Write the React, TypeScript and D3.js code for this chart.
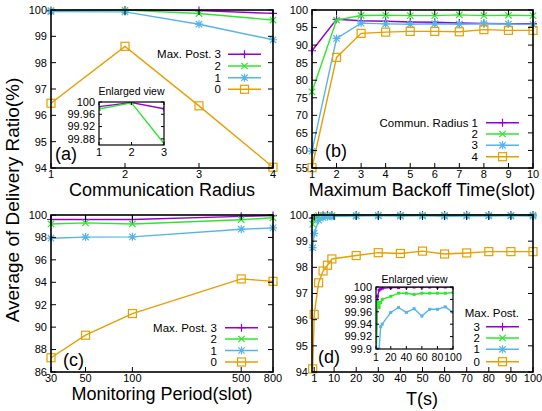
import * as d3 from "d3";

const FONT = "'Liberation Sans', Arial, Helvetica, sans-serif";
const PURPLE = "#9400d3";
const GREEN = "#2ee62e";
const BLUE = "#56b4e9";
const ORANGE = "#e69f00";

// (a) communication radius
const radiusX = [1, 2, 3, 4];
const aPost3 = [99.985, 99.998, 99.978, 99.87];
const aPost2 = [99.977, 99.997, 99.865, 99.62];
const aPost1 = [99.94, 99.93, 99.46, 98.87];
const aPost0 = [96.46, 98.62, 96.36, 94.03];

// (b) maximum backoff time
const backoffX = [1, 2, 3, 4, 5, 6, 7, 8, 9, 10];
const bRadius1 = [88.4, 97.35, 96.95, 96.8, 96.6, 96.5, 96.3, 96.2, 96.1, 96.1];
const bRadius2 = [76.7, 97.15, 98.45, 98.5, 98.4, 98.4, 98.6, 98.4, 98.5, 98.4];
const bRadius3 = [59.8, 91.9, 96.25, 96.05, 95.95, 96.1, 95.95, 96.1, 96.0, 95.9];
const bRadius4 = [55.1, 86.5, 93.35, 93.7, 93.9, 93.9, 93.8, 94.4, 94.2, 94.2];

// (c) monitoring period
const periodX = [30, 50, 100, 500, 800];
const cPost3 = [99.6, 99.6, 99.6, 99.88, 99.95];
const cPost2 = [99.2, 99.3, 99.2, 99.58, 99.75];
const cPost1 = [97.93, 98.03, 98.05, 98.73, 98.85];
const cPost0 = [87.27, 89.28, 91.21, 94.3, 94.08];

// (d) T(s)
const timeX = [0.3, 1, 3, 5, 7, 9, 20, 30, 40, 50, 60, 70, 80, 90, 100];
const dPost3 = [99.88, 99.9, 99.985, 99.995, 99.997, 99.998, 99.999, 99.999, 100, 100, 100, 100, 100, 100, 100];
const dPost2 = [99.65, 99.88, 99.976, 99.967, 99.975, 99.98, 99.985, 99.99, 99.99, 99.988, 99.99, 99.99, 99.99, 99.99, 99.991];
const dPost1 = [98.75, 99.3, 99.8, 99.9, 99.936, 99.94, 99.959, 99.967, 99.959, 99.965, 99.953, 99.964, 99.964, 99.968, 99.959];
const dPost0 = [94.12, 96.2, 97.41, 97.86, 98.08, 98.32, 98.45, 98.56, 98.53, 98.62, 98.51, 98.55, 98.6, 98.6, 98.6];

const postLabels = ["Max. Post. 3", "2", "1", "0"];
const radiusLabels = ["Commun. Radius 1", "2", "3", "4"];
const postDigits = ["3", "2", "1", "0"];

const colors = [PURPLE, GREEN, BLUE, ORANGE];
const markers = ["plus", "cross", "star", "square"];

type Box = { l: number; r: number; t: number; b: number };

function Marker({ kind, cx, cy, color, s = 1 }: any) {
  const p = 4 * s;
  const c = 3.2 * s;
  const sw = 1.2;
  if (kind === "plus")
    return (
      <path d={`M${cx - p},${cy}H${cx + p}M${cx},${cy - p}V${cy + p}`} stroke={color} strokeWidth={sw} />
    );
  if (kind === "cross")
    return (
      <path
        d={`M${cx - c},${cy - c}L${cx + c},${cy + c}M${cx - c},${cy + c}L${cx + c},${cy - c}`}
        stroke={color}
        strokeWidth={sw}
      />
    );
  if (kind === "star")
    return (
      <path
        d={`M${cx - p},${cy}H${cx + p}M${cx},${cy - p}V${cy + p}M${cx - c},${cy - c}L${cx + c},${cy + c}M${cx - c},${cy + c}L${cx + c},${cy - c}`}
        stroke={color}
        strokeWidth={sw}
      />
    );
  if (kind === "dot") return <rect x={cx - 1.5} y={cy - 1.5} width={3} height={3} fill={color} />;
  return (
    <rect x={cx - 4 * s} y={cy - 4 * s} width={8 * s} height={8 * s} fill="none" stroke={color} strokeWidth={sw} />
  );
}

function Frame({ box, x, y, xTicks, yTicks, xFmt, yFmt, fs, xfs, tick, labelGap, sw }: any) {
  return (
    <g>
      {xTicks.map((t: number) => (
        <g key={"x" + t}>
          <line x1={x(t)} x2={x(t)} y1={box.b} y2={box.b - tick} stroke="#000" />
          <line x1={x(t)} x2={x(t)} y1={box.t} y2={box.t + tick} stroke="#000" />
          <text x={x(t)} y={box.b + labelGap} textAnchor="middle" fontSize={xfs || fs}>
            {xFmt(t)}
          </text>
        </g>
      ))}
      {yTicks.map((t: number) => (
        <g key={"y" + t}>
          <line x1={box.l} x2={box.l + tick} y1={y(t)} y2={y(t)} stroke="#000" />
          <line x1={box.r} x2={box.r - tick} y1={y(t)} y2={y(t)} stroke="#000" />
          <text x={box.l - 4} y={y(t)} dy="0.35em" textAnchor="end" fontSize={fs}>
            {yFmt(t)}
          </text>
        </g>
      ))}
      <rect x={box.l} y={box.t} width={box.r - box.l} height={box.b - box.t} fill="none" stroke="#000" strokeWidth={sw} />
    </g>
  );
}

function Lines({ xs, ys, x, y, s = 1, dots = false, clip }: any) {
  const line = d3
    .line<[number, number]>()
    .x((d) => x(d[0]))
    .y((d) => y(d[1]));
  return (
    <g clipPath={clip}>
      {ys.map((vals: number[], i: number) => {
        const pts = xs.map((v: number, j: number) => [v, vals[j]] as [number, number]);
        return (
          <g key={i}>
            <path d={line(pts) || ""} fill="none" stroke={colors[i]} strokeWidth={1.4} />
            {pts.map((p: [number, number], j: number) => (
              <Marker key={j} kind={dots ? "dot" : markers[i]} cx={x(p[0])} cy={y(p[1])} color={colors[i]} s={s} />
            ))}
          </g>
        );
      })}
    </g>
  );
}

function Legend({ labels, textX, x1, x2, rows, title, titleY }: any) {
  return (
    <g fontSize={11.5}>
      {title && (
        <text x={x2} y={titleY} dy="0.35em" textAnchor="end">
          {title}
        </text>
      )}
      {labels.map((lab: string, i: number) => (
        <g key={i}>
          <text x={textX} y={rows[i]} dy="0.35em" textAnchor="end">
            {lab}
          </text>
          <line x1={x1} x2={x2} y1={rows[i]} y2={rows[i]} stroke={colors[i]} strokeWidth={1.4} />
          <Marker kind={markers[i]} cx={(x1 + x2) / 2} cy={rows[i]} color={colors[i]} />
        </g>
      ))}
    </g>
  );
}

const intFmt = (v: number) => String(v);
const decFmt = (v: number) => String(+v.toFixed(2));

export default function App() {
  // (a)
  const boxA: Box = { l: 51, r: 273, t: 10, b: 168 };
  const xA = d3.scaleLinear().domain([1, 4]).range([boxA.l, boxA.r]);
  const yA = d3.scaleLinear().domain([94, 100]).range([boxA.b, boxA.t]);
  const insA: Box = { l: 99, r: 164, t: 102, b: 145 };
  const xIA = d3.scaleLinear().domain([1, 3]).range([insA.l, insA.r]);
  const yIA = d3.scaleLinear().domain([99.86, 100]).range([insA.b, insA.t]);

  // (b)
  const boxB: Box = { l: 312, r: 533, t: 10, b: 168 };
  const xB = d3.scaleLinear().domain([1, 10]).range([boxB.l, boxB.r]);
  const yB = d3.scaleLinear().domain([55, 100]).range([boxB.b, boxB.t]);

  // (c)
  const boxC: Box = { l: 51, r: 273, t: 215, b: 372 };
  const xC = d3.scaleLog().domain([30, 800]).range([boxC.l, boxC.r]);
  const yC = d3.scaleLinear().domain([86, 100]).range([boxC.b, boxC.t]);

  // (d)
  const boxD: Box = { l: 312, r: 533, t: 215, b: 372 };
  const xD = d3.scaleLinear().domain([0, 100]).range([boxD.l, boxD.r]);
  const yD = d3.scaleLinear().domain([94, 100]).range([boxD.b, boxD.t]);
  const insD: Box = { l: 376, r: 453, t: 287, b: 349 };
  const xID = d3.scaleLinear().domain([1, 100]).range([insD.l, insD.r]);
  const yID = d3.scaleLinear().domain([99.9, 100]).range([insD.b, insD.t]);

  return (
    <svg width={542} height={411} style={{ position: "absolute", left: 0, top: 0 }} fontFamily={FONT}>
      <rect width={542} height={411} fill="#fff" />
      <defs>
        <clipPath id="clipIA">
          <rect x={insA.l} y={insA.t} width={insA.r - insA.l} height={insA.b - insA.t} />
        </clipPath>
        <clipPath id="clipID">
          <rect x={insD.l} y={insD.t} width={insD.r - insD.l} height={insD.b - insD.t} />
        </clipPath>
      </defs>

      <text transform="translate(19,200) rotate(-90)" textAnchor="middle" fontSize={19}>
        Average of Delivery Ratio(%)
      </text>

      {/* (a) */}
      <Lines xs={radiusX} ys={[aPost3, aPost2, aPost1, aPost0]} x={xA} y={yA} />
      <Legend labels={postLabels} textX={221} x1={228} x2={261} rows={[54.3, 66, 77.7, 89.3]} />
      <rect x={insA.l} y={insA.t} width={insA.r - insA.l} height={insA.b - insA.t} fill="#fff" />
      <Lines xs={radiusX} ys={[aPost3, aPost2]} x={xIA} y={yIA} s={0.55} clip="url(#clipIA)" />
      <Frame box={insA} x={xIA} y={yIA} xTicks={[1, 2, 3]} yTicks={[100, 99.96, 99.92, 99.88]} xFmt={intFmt} yFmt={decFmt} fs={11} tick={3} labelGap={11} sw={1.2} />
      <text x={131.5} y={95} textAnchor="middle" fontSize={10.5}>
        Enlarged view
      </text>
      <text x={55} y={160} fontSize={18}>
        (a)
      </text>
      <Frame box={boxA} x={xA} y={yA} xTicks={radiusX} yTicks={d3.range(94, 101)} xFmt={intFmt} yFmt={intFmt} fs={11} tick={5} labelGap={10} sw={1.6} />
      <text x={162} y={196} textAnchor="middle" fontSize={18}>
        Communication Radius
      </text>

      {/* (b) */}
      <Lines xs={backoffX} ys={[bRadius1, bRadius2, bRadius3, bRadius4]} x={xB} y={yB} />
      <Legend labels={radiusLabels} textX={478} x1={486} x2={519} rows={[122.7, 134, 145.3, 156.7]} />
      <text x={325} y={157} fontSize={18}>
        (b)
      </text>
      <Frame box={boxB} x={xB} y={yB} xTicks={backoffX} yTicks={d3.range(55, 101, 5)} xFmt={intFmt} yFmt={intFmt} fs={11} tick={5} labelGap={10} sw={1.6} />
      <text x={422} y={196} textAnchor="middle" fontSize={18}>
        Maximum Backoff Time(slot)
      </text>

      {/* (c) */}
      <Lines xs={periodX} ys={[cPost3, cPost2, cPost1, cPost0]} x={xC} y={yC} />
      <Legend labels={postLabels} textX={217} x1={225} x2={258} rows={[327.7, 339, 350.5, 362]} />
      <text x={63} y={366} fontSize={18}>
        (c)
      </text>
      <Frame box={boxC} x={xC} y={yC} xTicks={periodX} yTicks={d3.range(86, 101, 2)} xFmt={intFmt} yFmt={intFmt} fs={11} tick={5} labelGap={10} sw={1.6} />
      <text x={162} y={400} textAnchor="middle" fontSize={18}>
        Monitoring Period(slot)
      </text>

      {/* (d) */}
      <Lines xs={timeX} ys={[dPost3, dPost2, dPost1, dPost0]} x={xD} y={yD} />
      <Legend labels={postDigits} textX={480} x1={486} x2={519} rows={[326.7, 338, 349.3, 361.7]} title="Max. Post." titleY={313} />
      <rect x={insD.l} y={insD.t} width={insD.r - insD.l} height={insD.b - insD.t} fill="#fff" />
      <Lines xs={timeX} ys={[dPost3, dPost2, dPost1]} x={xID} y={yID} dots clip="url(#clipID)" />
      <Frame box={insD} x={xID} y={yID} xTicks={[1, 20, 40, 60, 80, 100]} yTicks={d3.range(0, 6).map((i) => 99.9 + i * 0.02)} xFmt={intFmt} yFmt={decFmt} fs={11} xfs={10.5} tick={3} labelGap={12} sw={1.2} />
      <text x={414.5} y={283} textAnchor="middle" fontSize={10.5}>
        Enlarged view
      </text>
      <text x={318} y={363} fontSize={18}>
        (d)
      </text>
      <Frame box={boxD} x={xD} y={yD} xTicks={[1, 10, 20, 30, 40, 50, 60, 70, 80, 90, 100]} yTicks={d3.range(94, 101)} xFmt={intFmt} yFmt={intFmt} fs={11} tick={5} labelGap={10} sw={1.6} />
      <text x={422} y={405} textAnchor="middle" fontSize={18}>
        T(s)
      </text>
    </svg>
  );
}
